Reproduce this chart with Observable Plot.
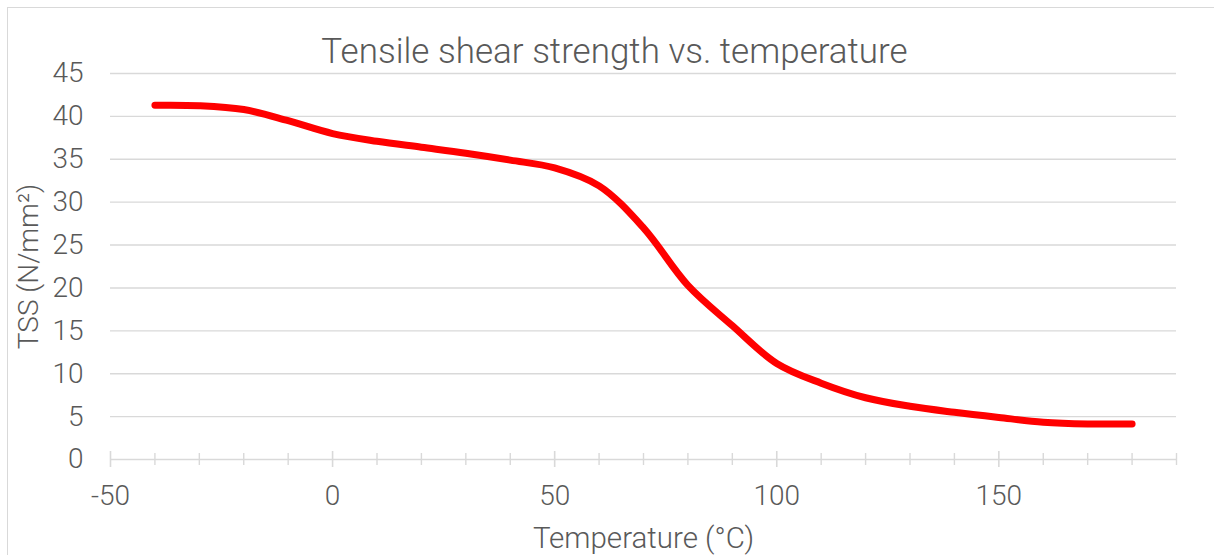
<!DOCTYPE html>
<html>
<head>
<meta charset="utf-8">
<script src="https://cdn.jsdelivr.net/npm/d3@7"></script>
<script src="https://cdn.jsdelivr.net/npm/@observablehq/plot@0.6"></script>
<style>
  html, body { margin: 0; padding: 0; background: #fff; overflow: hidden; }
  #border { position: absolute; left: 7px; top: 7px; width: 1400px; height: 700px;
            border-left: 1.5px solid #d9d9d9; border-top: 1.5px solid #d9d9d9; pointer-events: none; }
  #chart { position: absolute; left: 0; top: 0; }
</style>
</head>
<body>
<div id="chart"></div>
<div id="border"></div>
<script>
const title = "Tensile shear strength vs. temperature";
const xLabel = "Temperature (°C)";
const yLabel = "TSS (N/mm²)";

const temperature = [-40, -30, -20, -10, 0, 10, 20, 30, 40, 50, 60, 70, 80, 90, 100, 110, 120, 130, 140, 150, 160, 170, 180];
const tss = [41.3, 41.25, 40.8, 39.5, 38.0, 37.1, 36.4, 35.7, 34.9, 34.0, 31.9, 27.0, 20.3, 15.6, 11.2, 8.9, 7.2, 6.2, 5.5, 4.9, 4.35, 4.15, 4.15];

const xTicks = [-50, 0, 50, 100, 150];
const xMinorTicks = [-40, -30, -20, -10, 10, 20, 30, 40, 60, 70, 80, 90, 110, 120, 130, 140, 160, 170, 180, 190];
const yTicks = [0, 5, 10, 15, 20, 25, 30, 35, 40, 45];

const data = temperature.map((t, i) => ({t, v: tss[i]}));
const grid = "#d9d9d9";
const ink = "#595959";

const chart = Plot.plot({
  width: 1214,
  height: 555,
  marginLeft: 110,
  marginRight: 38,
  marginTop: 73,
  marginBottom: 96,
  style: {fontFamily: "'Roboto Light', Roboto, 'Open Sans', sans-serif", fontWeight: 300, fontSize: "28px", color: ink, background: "transparent"},
  x: {domain: [-50, 190]},
  y: {domain: [0, 45]},
  marks: [
    Plot.ruleY(yTicks.filter(d => d > 0), {stroke: grid, strokeWidth: 1.4}),
    Plot.ruleY([0], {stroke: grid, strokeWidth: 1.6}),
    Plot.ruleX(xTicks, {x: d => d, y1: 0, y2: 0, insetTop: -8, insetBottom: -8, stroke: grid, strokeWidth: 1.6}),
    Plot.ruleX(xMinorTicks, {x: d => d, y1: 0, y2: 0, insetTop: -6, insetBottom: -6, stroke: grid, strokeWidth: 1.4}),
    Plot.axisX({ticks: xTicks, tickSize: 0, tickPadding: 26, tickFormat: d => String(d),
      fontSize: 28, fill: ink,
      label: null}),
    Plot.axisX({ticks: [], tickSize: 0, fontSize: 29.5, fill: ink,
      label: xLabel, labelAnchor: "center", labelOffset: 88, labelArrow: "none"}),
    Plot.axisY({ticks: yTicks, tickSize: 0, tickPadding: 27, tickFormat: d => String(d),
      fontSize: 28, fill: ink,
      label: yLabel, labelAnchor: "center", labelOffset: 92, labelArrow: "none"}),
    Plot.line(data, {x: "t", y: "v", stroke: "#ff0000", strokeWidth: 7, curve: "catmull-rom",
      strokeLinecap: "round", strokeLinejoin: "round"}),
    Plot.text([title], {frameAnchor: "top", dx: -29, dy: -11, lineAnchor: "bottom",
      fontSize: 35, fill: ink, text: d => d})
  ]
});
document.getElementById("chart").appendChild(chart);
</script>
</body>
</html>
